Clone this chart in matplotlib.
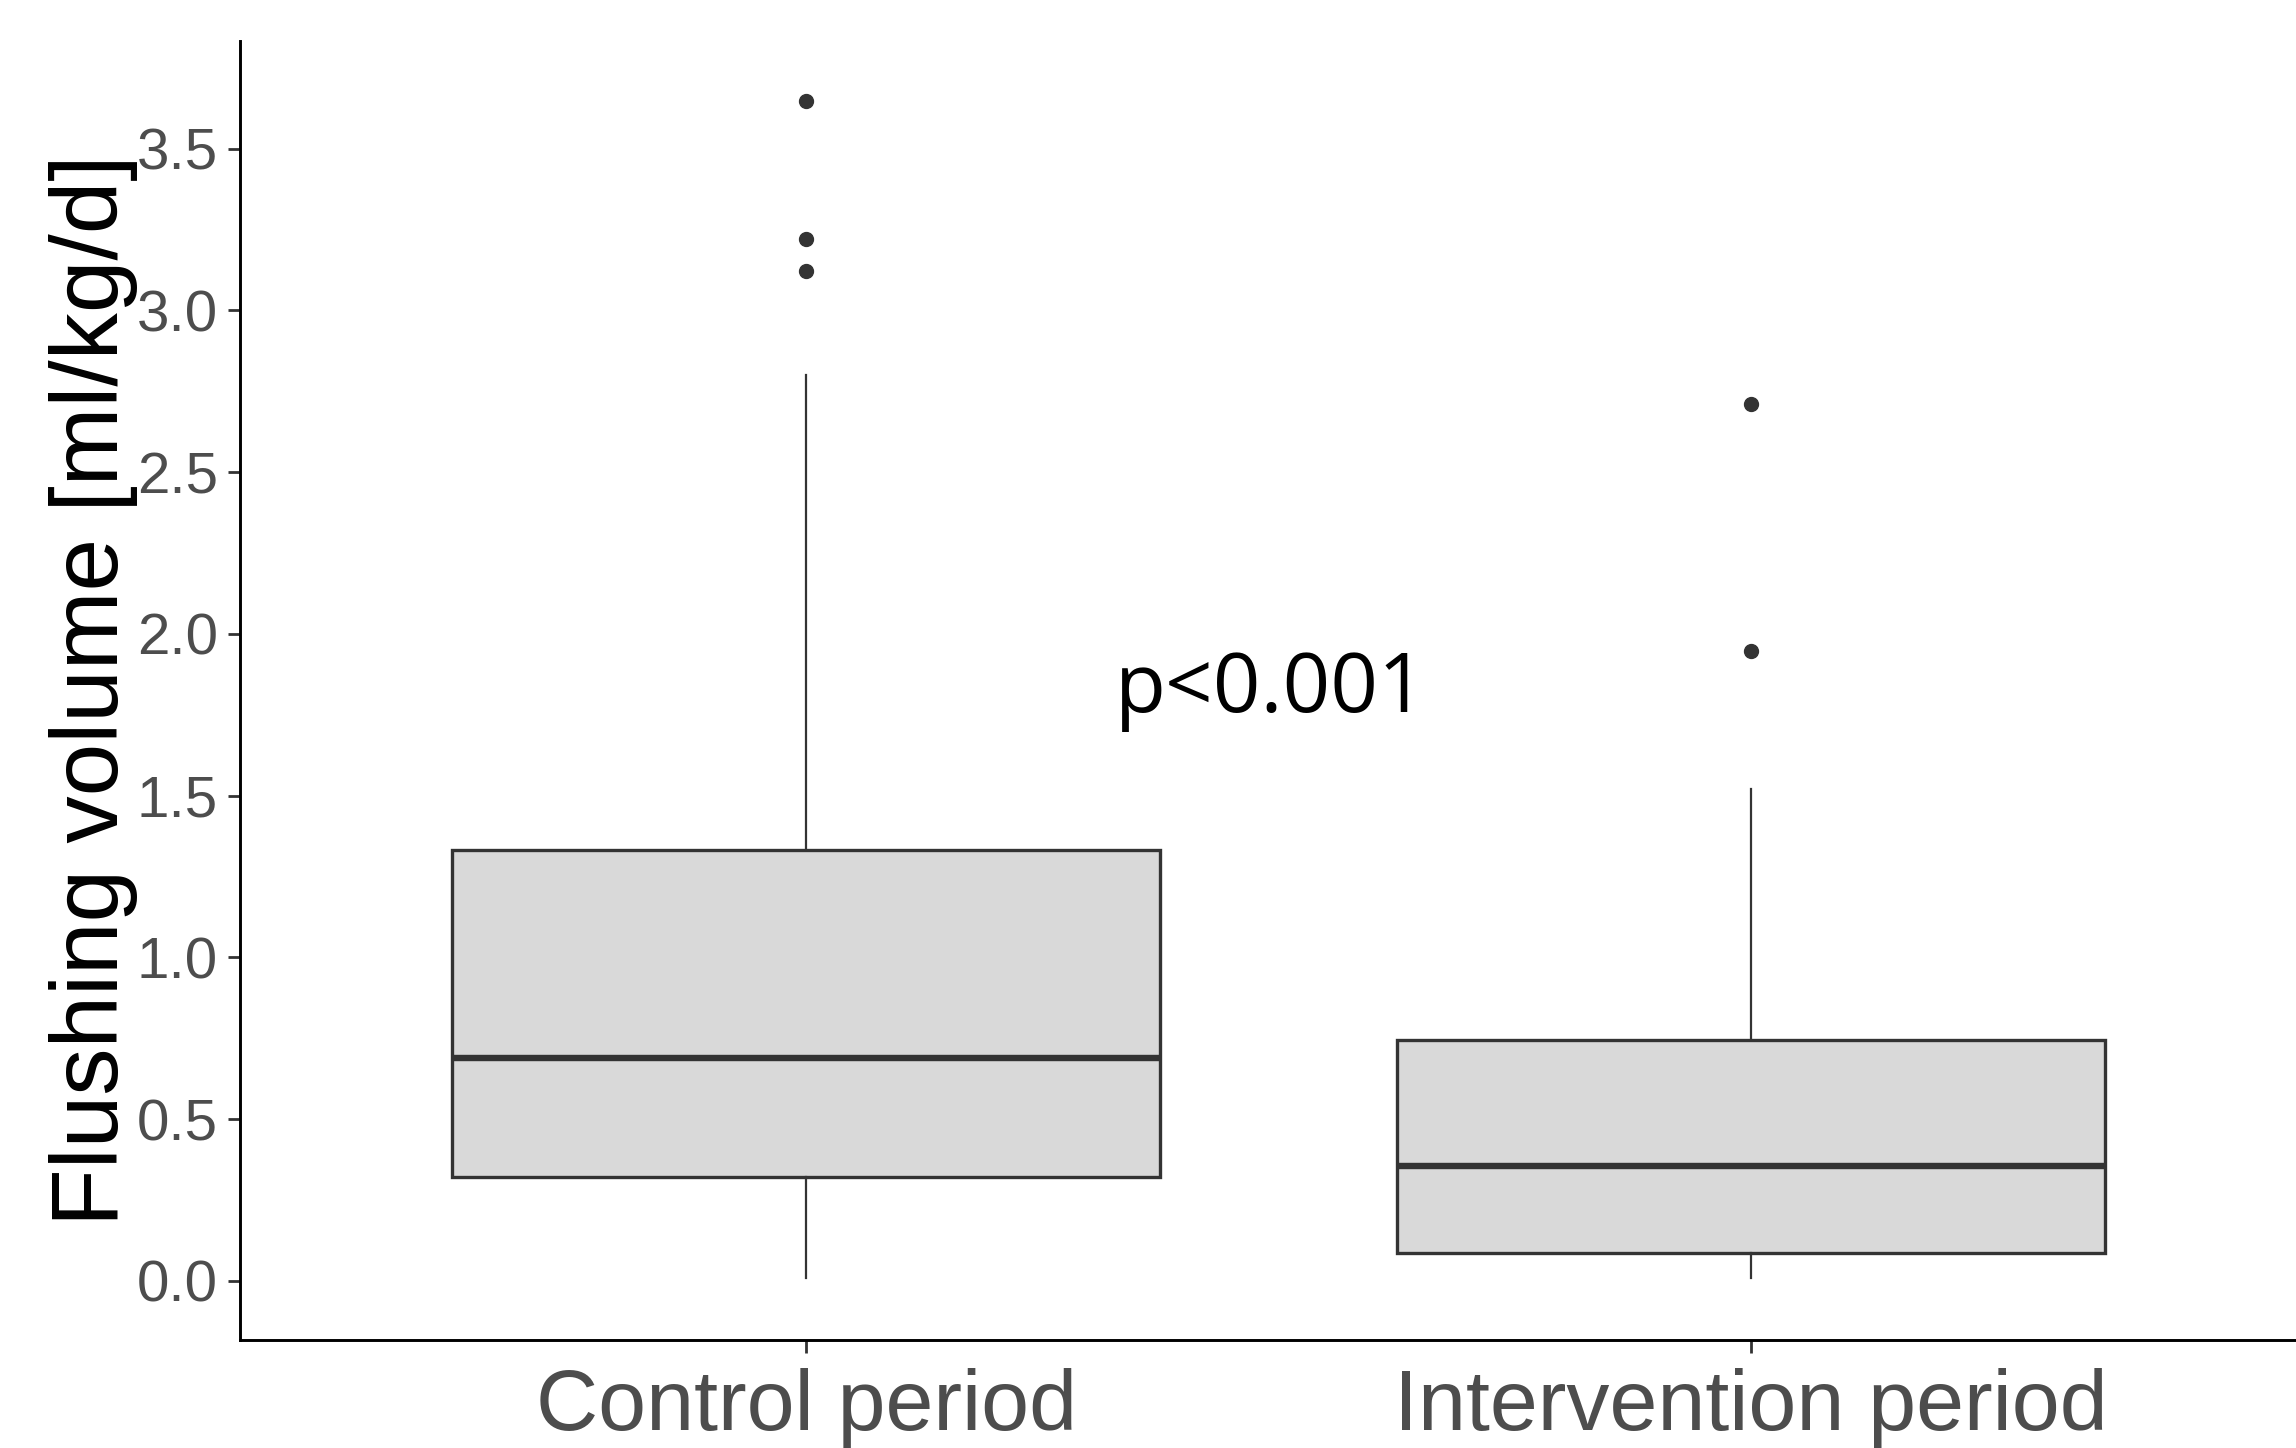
import matplotlib
matplotlib.use("Agg")
import matplotlib.pyplot as plt

# ---- data ----
categories = ["Control period", "Intervention period"]
whisker_low = [0.01, 0.01]
q1 = [0.321, 0.086]
median = [0.689, 0.354]
q3 = [1.332, 0.746]
whisker_high = [2.80, 1.52]
outliers = [[3.647, 3.222, 3.121], [2.711, 1.947]]
y_ticks = [0.0, 0.5, 1.0, 1.5, 2.0, 2.5, 3.0, 3.5]
p_text = "p<0.001"

plt.rcParams["font.family"] = ["Liberation Sans", "DejaVu Sans"]

fig = plt.figure(figsize=(22.96, 14.48), dpi=100)
ax = fig.add_axes([240 / 2296, 1 - 1340 / 1448, (2317 - 240) / 2296, (1340 - 41) / 1448])

stats = []
for i, name in enumerate(categories):
    stats.append(dict(label=name, whislo=whisker_low[i], q1=q1[i], med=median[i],
                      q3=q3[i], whishi=whisker_high[i], fliers=outliers[i]))

dark = "#333333"
ax.bxp(stats, positions=[1, 2], widths=0.75, patch_artist=True, showcaps=False,
       boxprops=dict(facecolor="#D9D9D9", edgecolor=dark, linewidth=2.4),
       medianprops=dict(color=dark, linewidth=4.6, solid_capstyle="butt"),
       whiskerprops=dict(color=dark, linewidth=1.6),
       flierprops=dict(marker="o", markerfacecolor=dark, markeredgecolor=dark,
                       markersize=10, linestyle="none"))

ax.set_xlim(0.4, 2.6)
ax.set_ylim(-0.1825, 3.8325)
ax.set_yticks(y_ticks)
ax.set_yticklabels([f"{v:.1f}" for v in y_ticks])
ax.set_xticks([1, 2])
ax.set_xticklabels(categories)

for s in ["top", "right"]:
    ax.spines[s].set_visible(False)
for s in ["left", "bottom"]:
    ax.spines[s].set_linewidth(2.1)
    ax.spines[s].set_color("black")

ax.tick_params(axis="y", length=9, width=2, color=dark, labelsize=42,
               labelcolor="#4D4D4D", pad=7)
ax.tick_params(axis="x", length=9, width=2, color=dark, labelsize=62,
               labelcolor="#4D4D4D", pad=11)

ax.set_ylabel("Flushing volume [ml/kg/d]", fontsize=68, color="black",
              ha="center", va="center")
ax.yaxis.set_label_coords((94 - 240) / 2077, 0.5)

ax.text(1.492, 1.76, p_text, fontsize=60, family=["Open Sans", "DejaVu Sans"],
        color="black", ha="center", va="baseline")

fig.savefig("out.png", dpi=100)
